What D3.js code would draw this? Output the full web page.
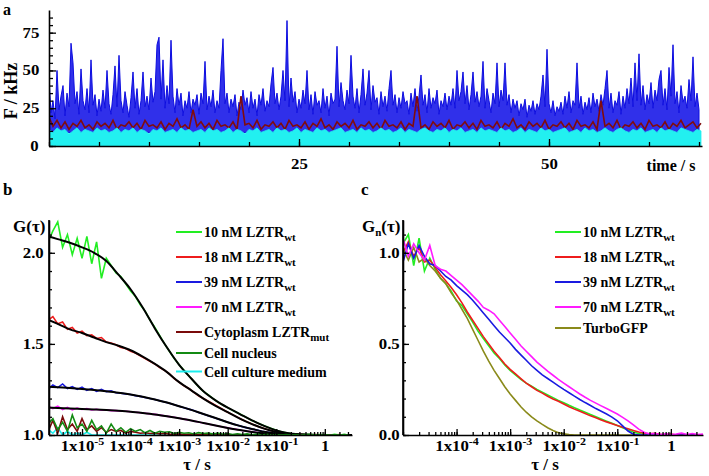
<!DOCTYPE html>
<html><head><meta charset="utf-8">
<script src="https://cdn.jsdelivr.net/npm/d3@7"></script>
<style>
body{margin:0;background:#fff}
text{font-family:'Liberation Serif','Times New Roman',serif;font-weight:bold;fill:#000}
.domain{stroke:#000;stroke-width:1.6}
.tick line{stroke:#000;stroke-width:1.3}
</style>
</head><body>
<svg id="c" width="709" height="476"></svg>
<script>
// ---------- Panel a : intensity traces (kHz) ----------
const traceBlueStep = 0.2;   // s between samples
const traceBlue = [
45,22,30,18,50,24,33,40,20,35,26,68,55,28,36,21,51,30,24,38,22,57,27,34,20,
31,23,37,25,50,28,21,34,53,26,60,30,22,36,27,19,32,49,25,38,21,30,49,26,33,
24,45,29,36,67,72,31,57,25,40,28,70,33,22,38,27,35,20,30,25,36,22,31,27,34,
21,35,28,56,24,33,26,37,22,30,25,50,71,28,35,22,31,26,34,20,29,24,37,27,32,
22,36,25,31,20,34,27,38,23,30,26,41,52,28,35,24,33,50,30,83,26,45,29,36,22,
31,25,37,28,50,24,34,21,36,27,30,22,38,25,33,20,35,28,31,66,26,42,30,24,37,
28,60,33,25,38,22,34,51,27,35,50,24,40,29,32,21,36,26,33,23,38,50,27,34,22,
32,25,36,28,30,21,35,26,38,23,33,47,27,34,22,38,25,32,28,37,21,30,26,35,24,
33,27,38,25,50,30,36,49,28,40,24,34,49,29,36,26,33,56,25,38,30,22,35,28,55,
26,37,30,55,27,34,22,31,25,30,20,28,24,31,19,27,23,30,21,28,24,33,47,26,64,
28,22,30,20,26,23,29,21,33,25,36,22,30,27,55,25,33,21,29,24,32,22,35,26,31,
23,34,27,38,50,25,35,22,30,27,36,21,33,25,38,28,45,26,55,30,61,27,40,24,34,
28,42,25,37,30,44,50,27,38,24,52,33,67,28,36,22,40,29,33,25,44,30,59,26,35,
24];
const blueFloor = 9;         // lower edge of the dense blue band (kHz)
const traceRedStep = 0.4;
const traceRed = [
19,13,17,12,16,11,15,13,17,12,14,11,16,13,15,12,17,11,14,13,
16,12,15,11,17,13,14,12,16,11,15,13,18,12,14,11,24,13,16,12,
15,11,17,13,14,12,16,11,33,14,15,12,17,11,14,13,16,12,15,11,
17,13,14,12,16,11,15,13,18,12,14,11,16,13,15,12,17,11,14,13,
16,12,15,11,17,13,14,12,16,11,15,13,33,12,14,11,16,13,15,12,
17,11,14,13,16,12,15,11,17,13,14,12,16,11,15,13,18,12,14,11,
16,13,15,12,17,11,14,13,16,12,15,11,17,13,14,12,16,11,30,13,
15,12,17,11,14,13,16,12,15,11,17,13,14,12,16,11,15,13,17,12,
14,16,12,15];
const traceCyanStep = 0.4;
const traceCyan = [
11,9,12,10,11,8,10,12,9,11,10,9,12,10,11,9,10,12,9,11,
10,12,9,11,10,8,11,10,12,9,10,11,9,12,10,11,9,10,11,9,
12,10,11,9,10,12,9,11,10,8,11,10,12,9,10,11,9,12,10,11,
9,10,12,9,11,10,9,12,10,11,9,10,11,12,9,10,11,9,12,10,
11,9,10,12,10,11,9,10,12,9,11,10,9,11,12,10,9,11,10,12,
9,11,10,12,9,10,11,9,12,10,11,10,9,12,10,11,9,10,12,9,
11,10,9,12,10,11,9,10,11,12,9,10,11,9,12,10,11,9,10,12,
10,9,11,12,10,9,11,10,12,9,10,11,9,12,10,11,10,9,12,11,
10,9,11,10];
const aYTicks = [0,25,50,75];
const aXTicks = [25,50];

// ---------- Panel b : G(tau) ----------
const logTauB = [-5.7,-5.6,-5.5,-5.4,-5.3,-5.2,-5.1,-5.0,-4.9,-4.8,-4.7,-4.6,-4.5,-4.4,-4.3,-4.2,-4.1,-4.0,-3.9,-3.8,-3.7,-3.6,-3.5,-3.4,-3.3,-3.2,-3.1,-3.0,-2.9,-2.8,-2.7,-2.6,-2.5,-2.4,-2.3,-2.2,-2.1,-2.0,-1.9,-1.8,-1.7,-1.6,-1.5,-1.4,-1.3,-1.2,-1.1,-1.0,-0.9,-0.8,-0.7,-0.6,-0.5,-0.4,-0.3,-0.2,-0.1,0,0.1,0.2,0.3,0.4,0.5];
const gB10 = [2.06,2.12,2.17,2.03,2.10,1.99,2.08,1.97,2.09,1.94,2.06,1.86,1.97,1.93,1.89,1.87,1.83,1.79,1.76,1.715,1.68,1.63,1.59,1.545,1.50,1.46,1.42,1.385,1.355,1.325,1.295,1.265,1.24,1.22,1.20,1.18,1.165,1.15,1.135,1.122,1.108,1.094,1.08,1.068,1.056,1.045,1.035,1.026,1.018,1.012,1.008,1.005,1.003,1.002,1.004,1.0,1.003,1.001,0.998,1.004,1.0,1.003,1.0];
const gB18 = [1.63,1.65,1.61,1.62,1.58,1.59,1.56,1.57,1.545,1.55,1.53,1.535,1.51,1.505,1.495,1.48,1.475,1.46,1.45,1.435,1.42,1.405,1.39,1.37,1.355,1.335,1.31,1.29,1.27,1.255,1.235,1.215,1.20,1.185,1.17,1.155,1.14,1.125,1.112,1.098,1.084,1.072,1.06,1.05,1.04,1.031,1.023,1.017,1.012,1.008,1.005,1.003,1.002,1.001,0.999,1.002,1.0,1.001,0.999,1.0,1.002,1.0,1.0];
const gB39 = [1.25,1.275,1.26,1.28,1.255,1.265,1.25,1.262,1.245,1.255,1.24,1.25,1.238,1.242,1.232,1.23,1.225,1.222,1.216,1.212,1.206,1.2,1.195,1.188,1.181,1.174,1.166,1.158,1.15,1.142,1.134,1.124,1.115,1.106,1.097,1.088,1.079,1.07,1.062,1.054,1.046,1.039,1.033,1.027,1.021,1.016,1.012,1.008,1.006,1.004,1.002,1.001,1.0,1.0,1.001,1.0,0.999,1.0,1.001,1.0,1.0,1.0,1.0];
const gB70 = [1.16,1.145,1.158,1.14,1.152,1.138,1.148,1.14,1.145,1.137,1.141,1.136,1.138,1.134,1.134,1.131,1.13,1.128,1.125,1.122,1.119,1.116,1.113,1.109,1.105,1.101,1.097,1.092,1.087,1.082,1.077,1.071,1.066,1.06,1.055,1.049,1.044,1.039,1.034,1.03,1.025,1.021,1.017,1.014,1.011,1.008,1.006,1.004,1.003,1.002,1.001,1.0,1.0,1.0,1.0,1.001,1.0,1.0,1.0,1.0,1.0,1.0,1.0];
const gBmut = [1.02,1.08,1.01,1.10,1.03,1.06,1.02,1.09,1.03,1.05,1.02,1.04,1.015,1.03,1.02,1.025,1.01,1.02,1.015,1.01,1.012,1.008,1.01,1.006,1.008,1.005,1.004,1.006,1.003,1.004,1.002,1.003,1.001,1.002,1.0,1.002,1.0,1.001,1.0,1.0,1.001,1.0,1.0,1.001,1.0,1.0,1.0,1.001,1.0,1.0,1.0,1.0,1.0,1.0,1.0,1.0,1.0,1.0,1.0,1.0,1.0,1.0,1.0];
const gBnuc = [1.06,1.09,1.03,1.07,1.02,1.11,1.04,1.06,1.02,1.08,1.03,1.05,1.01,1.06,1.02,1.04,1.015,1.035,1.02,1.03,1.012,1.025,1.01,1.02,1.015,1.018,1.008,1.015,1.01,1.012,1.006,1.013,1.008,1.01,1.005,1.01,1.004,1.008,1.003,1.007,1.002,1.006,1.001,1.005,1.0,1.004,1.0,1.003,1.0,1.002,1.0,1.003,0.999,1.002,1.0,1.001,1.0,1.002,0.999,1.001,1.0,1.002,1.0];
const gBmed = [1.03,1.01,1.04,1.0,1.02,1.0,1.01,1.0,1.015,1.0,1.0,1.0,1.0,1.0,1.0,1.0,1.0,1.0,1.0,1.0,1.0,1.0,1.0,1.0,1.0,1.0,1.0,1.0,1.0,1.0,1.0,1.0,1.0,1.0,1.0,1.0,1.0,1.0,1.0,1.0,1.0,1.0,1.0,1.0,1.0,1.0,1.0,1.0,1.0,1.0,1.0,1.0,1.0,1.0,1.0,1.0,1.0,1.0,1.0,1.0,1.0,1.0,1.0];
// fitted curves (black)
const logTauFit = [-5.68,-5.5,-5.25,-5,-4.75,-4.5,-4.25,-4,-3.75,-3.5,-3.25,-3,-2.75,-2.5,-2.25,-2,-1.75,-1.5,-1.25,-1,-0.75,-0.5,-0.25,0,0.25,0.56];
const fit10 = [2.09,2.075,2.055,2.03,2.00,1.955,1.88,1.80,1.70,1.585,1.48,1.385,1.31,1.24,1.19,1.15,1.115,1.08,1.05,1.025,1.01,1.004,1.001,1.0,1.0,1.0];
const fit18 = [1.63,1.61,1.58,1.56,1.535,1.51,1.49,1.465,1.43,1.39,1.345,1.29,1.245,1.20,1.16,1.125,1.09,1.06,1.035,1.017,1.007,1.002,1.0,1.0,1.0,1.0];
const fit39 = [1.265,1.262,1.258,1.253,1.247,1.24,1.232,1.222,1.21,1.195,1.178,1.158,1.138,1.115,1.093,1.07,1.05,1.033,1.018,1.008,1.003,1.0,1.0,1.0,1.0,1.0];
const fit70 = [1.15,1.148,1.146,1.143,1.14,1.137,1.133,1.128,1.121,1.113,1.103,1.092,1.08,1.066,1.052,1.039,1.027,1.017,1.009,1.004,1.001,1.0,1.0,1.0,1.0,1.0];
const bYTicks = [1.0,1.5,2.0];
const legendB = [
  {name:"10 nM LZTR", sub:"wt"},{name:"18 nM LZTR", sub:"wt"},{name:"39 nM LZTR", sub:"wt"},
  {name:"70 nM LZTR", sub:"wt"},{name:"Cytoplasm LZTR", sub:"mut"},{name:"Cell nucleus", sub:""},
  {name:"Cell culture medium", sub:""}];

// ---------- Panel c : normalised Gn(tau) ----------
const logTauC = [-5.0,-4.9,-4.8,-4.7,-4.6,-4.5,-4.4,-4.3,-4.2,-4.1,-4.0,-3.9,-3.8,-3.7,-3.6,-3.5,-3.4,-3.3,-3.2,-3.1,-3.0,-2.9,-2.8,-2.7,-2.6,-2.5,-2.4,-2.3,-2.2,-2.1,-2.0,-1.9,-1.8,-1.7,-1.6,-1.5,-1.4,-1.3,-1.2,-1.1,-1.0,-0.9,-0.8,-0.7,-0.6,-0.5,-0.4,-0.3,-0.2,-0.1,0,0.1,0.2,0.3,0.4,0.5,0.6];
const gC10 = [1.05,1.1,0.93,1.08,0.9,0.97,0.91,0.86,0.83,0.79,0.735,0.71,0.665,0.62,0.57,0.53,0.49,0.45,0.42,0.385,0.355,0.33,0.305,0.285,0.268,0.25,0.235,0.22,0.205,0.19,0.177,0.163,0.15,0.137,0.125,0.112,0.1,0.088,0.076,0.064,0.052,0.04,0.028,0.017,0.008,0.003,0,0,0,0,0,0,0,0,0,0,0];
const gC18 = [1.0,1.06,0.98,1.03,0.95,0.96,0.92,0.88,0.845,0.81,0.77,0.725,0.675,0.63,0.585,0.54,0.50,0.46,0.425,0.39,0.36,0.335,0.31,0.285,0.265,0.245,0.23,0.213,0.198,0.185,0.17,0.155,0.142,0.13,0.118,0.105,0.094,0.083,0.072,0.062,0.052,0.043,0.034,0.025,0.016,0.01,0.006,0.009,0.004,0.002,0.005,0.0,0.003,0.0,0.002,0.0,0.001];
const gC39 = [0.95,1.05,0.97,1.04,0.98,0.94,0.93,0.9,0.87,0.85,0.82,0.795,0.77,0.74,0.705,0.67,0.635,0.6,0.565,0.535,0.505,0.47,0.44,0.41,0.38,0.355,0.33,0.31,0.29,0.27,0.25,0.232,0.213,0.195,0.178,0.162,0.145,0.13,0.115,0.098,0.078,0.05,0.022,0.004,0,0,0,0,0,0,0,0,0,0,0,0,0];
const gC70 = [1.08,0.98,1.05,1.0,0.96,1.04,0.93,0.91,0.9,0.875,0.85,0.825,0.795,0.765,0.735,0.70,0.685,0.665,0.63,0.595,0.56,0.525,0.49,0.46,0.43,0.40,0.375,0.35,0.328,0.305,0.285,0.265,0.245,0.225,0.207,0.19,0.175,0.16,0.145,0.13,0.115,0.097,0.078,0.055,0.032,0.015,0.006,0.008,0.003,0.006,0.002,0.005,0.01,0.003,0.008,0.002,0.005];
const gCgfp = [1.02,0.96,1.03,0.95,0.97,0.93,0.9,0.86,0.83,0.78,0.74,0.69,0.64,0.58,0.52,0.46,0.405,0.355,0.31,0.265,0.225,0.19,0.155,0.125,0.1,0.078,0.058,0.04,0.025,0.013,0.006,0.002,0,0,0,0,0,0,0,0,0,0,0,0,0,0,0,0,0,0,0,0,0,0,0,0,0];
const cYTicks = [0.0,0.5,1.0];
const legendC = [
  {name:"10 nM LZTR", sub:"wt"},{name:"18 nM LZTR", sub:"wt"},{name:"39 nM LZTR", sub:"wt"},
  {name:"70 nM LZTR", sub:"wt"},{name:"TurboGFP", sub:""}];
const logTickExp = [-5,-4,-3,-2,-1,0];

// ---------- styles ----------
const COL = {g:"#22ee22", r:"#ee1c1c", b:"#1a1ae0", m:"#ff1aff", dr:"#7a0a0a", dg:"#138a13", cy:"#1aeeee", ol:"#8a8a1a",
             aBlue:"#0c0ce0", aRed:"#800c0c", aCyan:"#22f0f0"};
const svg = d3.select("#c");

function stretch(sel, k, origin){
  sel.style("transform-box","fill-box").style("transform-origin",origin).style("transform",`scaleX(${k})`);
}

// ================= PANEL A =================
const xa = d3.scaleLinear().domain([0,65.3]).range([49,702]);
const ya = d3.scaleLinear().domain([0,90]).range([146,10]);
svg.append("clipPath").attr("id","clipA").append("rect").attr("x",49).attr("y",8).attr("width",653).attr("height",138);
const gA = svg.append("g").attr("clip-path","url(#clipA)");
gA.append("path").datum(traceBlue).attr("fill","#1e1ee8").attr("fill-opacity",0.92).attr("stroke",COL.aBlue).attr("stroke-width",1)
  .attr("d", d3.area().x((d,i)=>xa(i*traceBlueStep)).y0(ya(blueFloor)).y1(d=>ya(d)));
gA.append("path").datum(traceRed).attr("fill","none").attr("stroke",COL.aRed).attr("stroke-width",1.6)
  .attr("d", d3.line().x((d,i)=>xa(i*traceRedStep)).y(d=>ya(d)));
gA.append("path").datum(traceCyan).attr("fill",COL.aCyan).attr("stroke",COL.aCyan).attr("stroke-width",0.8)
  .attr("d", d3.area().x((d,i)=>xa(i*traceCyanStep)).y0(ya(0)).y1(d=>ya(d)));

// axes a
svg.append("g").attr("transform","translate(49,0)")
  .call(d3.axisLeft(ya).tickValues(d3.range(0,90,5)).tickSize(-4).tickSizeOuter(0).tickFormat(""));
const ayMaj = svg.append("g").attr("transform","translate(49,0)")
  .call(d3.axisLeft(ya).tickValues(aYTicks).tickSize(-7).tickSizeOuter(0).tickPadding(11).tickFormat(d3.format("d")));
ayMaj.selectAll("text").style("font-size","14px");
svg.append("g").attr("transform","translate(0,146)")
  .call(d3.axisBottom(xa).tickValues(d3.range(0,66,5)).tickSize(-4).tickSizeOuter(0).tickFormat(""));
const axMaj = svg.append("g").attr("transform","translate(0,146)")
  .call(d3.axisBottom(xa).tickValues(aXTicks).tickSize(-7).tickSizeOuter(0).tickPadding(13).tickFormat(d3.format("d")));
axMaj.selectAll("text").style("font-size","14px");
[ayMaj,axMaj].forEach(g=>g.select(".domain").remove());
svg.append("text").attr("x",3).attr("y",15).style("font-size","16px").text("a");
svg.append("text").attr("transform","translate(17,91) rotate(-90)").attr("text-anchor","middle").style("font-size","18px").text("F / kHz");
svg.append("text").attr("x",671).attr("y",171).attr("text-anchor","middle").style("font-size","16px").text("time / s");

// ================= helpers for b, c =================
function logAxis(x, y0){
  const lo = x.domain()[0], hi = x.domain()[1];
  svg.append("g").attr("transform",`translate(0,${y0})`)
    .call(d3.axisBottom(x).tickValues(x.ticks().filter(v=>v>=lo && v<=hi)).tickSize(-3).tickSizeOuter(0).tickFormat(""));
  const maj = logTickExp.map(e=>10**e).filter(v=>v>=lo*1.01 && v<=hi);
  const g = svg.append("g").attr("transform",`translate(0,${y0})`)
    .call(d3.axisBottom(x).tickValues(maj).tickSize(-6).tickSizeOuter(0).tickFormat(""));
  g.select(".domain").remove();
  g.selectAll(".tick").each(function(d){
    const e = Math.round(Math.log10(d));
    const t = d3.select(this).append("text").attr("y",16).attr("text-anchor","middle").style("font-size","14px");
    if (e===0) t.text("1");
    else { t.append("tspan").text("1x10"); t.append("tspan").attr("dy",-6).style("font-size","10px").text(String(e)); }
  });
}
function linYAxis(y, x0, major, padding){
  const [lo,hi] = y.domain();
  svg.append("g").attr("transform",`translate(${x0},0)`)
    .call(d3.axisLeft(y).tickValues(d3.range(Math.round(lo*10), Math.floor(hi*10)+1).map(v=>v/10)).tickSize(-3).tickSizeOuter(0).tickFormat(""));
  const g = svg.append("g").attr("transform",`translate(${x0},0)`)
    .call(d3.axisLeft(y).tickValues(major).tickSize(-6).tickSizeOuter(0).tickPadding(padding).tickFormat(d3.format(".1f")));
  g.select(".domain").remove();
  g.selectAll("text").style("font-size","14px");
  return g;
}
function legend(items, colors, xLine, y0){
  let y = y0;
  items.forEach((it,i)=>{
    if (i>0){ const p = items[i-1]; y += it.sub ? 25 : (p.sub ? 21 : 18.5); }
    svg.append("line").attr("x1",xLine).attr("x2",xLine+26).attr("y1",y).attr("y2",y)
      .attr("stroke",colors[i]).attr("stroke-width",2);
    const t = svg.append("text").attr("x",xLine+28).attr("y",y+5).style("font-size","14px");
    t.append("tspan").text(it.name);
    if (it.sub) t.append("tspan").attr("dy",4).style("font-size","11px").text(it.sub);
  });
}

// ================= PANEL B =================
const xb = d3.scaleLog().domain([10**-5.68, 10**0.56]).range([49,352]);
const yb = d3.scaleLinear().domain([1.0,2.18]).range([435,220]);
svg.append("clipPath").attr("id","clipB").append("rect").attr("x",49).attr("y",215).attr("width",303).attr("height",220);
const gB = svg.append("g").attr("clip-path","url(#clipB)");
const lineB = d3.line().x((d,i)=>xb(10**logTauB[i])).y(d=>yb(d));
const lineFit = d3.line().x((d,i)=>xb(10**logTauFit[i])).y(d=>yb(d)).curve(d3.curveMonotoneX);
[[gB10,COL.g],[gB18,COL.r],[gB39,COL.b],[gB70,COL.m]].forEach(([d,c])=>
  gB.append("path").datum(d).attr("fill","none").attr("stroke",c).attr("stroke-width",1.6).attr("d",lineB));
[fit10,fit18,fit39,fit70].forEach(d=>
  gB.append("path").datum(d).attr("fill","none").attr("stroke","#000").attr("stroke-width",2).attr("d",lineFit));
[[gBmed,COL.cy],[gBmut,COL.dr],[gBnuc,COL.dg]].forEach(([d,c])=>
  gB.append("path").datum(d).attr("fill","none").attr("stroke",c).attr("stroke-width",1.6).attr("d",lineB));
svg.append("line").attr("x1",49).attr("x2",49).attr("y1",220).attr("y2",435).attr("stroke","#000").attr("stroke-width",1.6);
linYAxis(yb, 49, bYTicks, 7);
logAxis(xb, 435);
svg.append("text").attr("x",3).attr("y",195).style("font-size","17px").text("b");
svg.append("text").attr("x",13).attr("y",232).style("font-size","17px").text("G(τ)");
svg.append("text").attr("x",197).attr("y",470).attr("text-anchor","middle").style("font-size","17px").text("τ / s");
legend(legendB, [COL.g,COL.r,COL.b,COL.m,COL.dr,COL.dg,COL.cy], 176, 232);

// ================= PANEL C =================
const xc = d3.scaleLog().domain([1e-5, 10**0.6]).range([403,703]);
const yc = d3.scaleLinear().domain([0,1.18]).range([435,220]);
svg.append("clipPath").attr("id","clipC").append("rect").attr("x",403).attr("y",215).attr("width",300).attr("height",220);
const gC = svg.append("g").attr("clip-path","url(#clipC)");
const lineC = d3.line().x((d,i)=>xc(10**logTauC[i])).y(d=>yc(d));
[[gC10,COL.g],[gC18,COL.r],[gCgfp,COL.ol],[gC39,COL.b],[gC70,COL.m]].forEach(([d,c])=>
  gC.append("path").datum(d).attr("fill","none").attr("stroke",c).attr("stroke-width",1.6).attr("d",lineC));
svg.append("line").attr("x1",403).attr("x2",403).attr("y1",220).attr("y2",435).attr("stroke","#000").attr("stroke-width",1.6);
linYAxis(yc, 403, cYTicks, 5);
logAxis(xc, 435);
svg.append("text").attr("x",361).attr("y",195).style("font-size","17px").text("c");
const gn = svg.append("text").attr("x",362).attr("y",232).style("font-size","17px");
gn.append("tspan").text("G"); gn.append("tspan").attr("dy",4).style("font-size","11px").text("n");
gn.append("tspan").attr("dy",-4).text("(τ)");
svg.append("text").attr("x",545).attr("y",470).attr("text-anchor","middle").style("font-size","17px").text("τ / s");
legend(legendC, [COL.g,COL.r,COL.b,COL.m,COL.ol], 555, 232);

// horizontal stretching of tick labels to match the reference glyph widths
svg.selectAll(".tick text").each(function(){
  const a = d3.select(this).attr("text-anchor") || "middle";
  stretch(d3.select(this), 1.2, a==="end" ? "right center" : "center");
});
</script>
</body></html>
